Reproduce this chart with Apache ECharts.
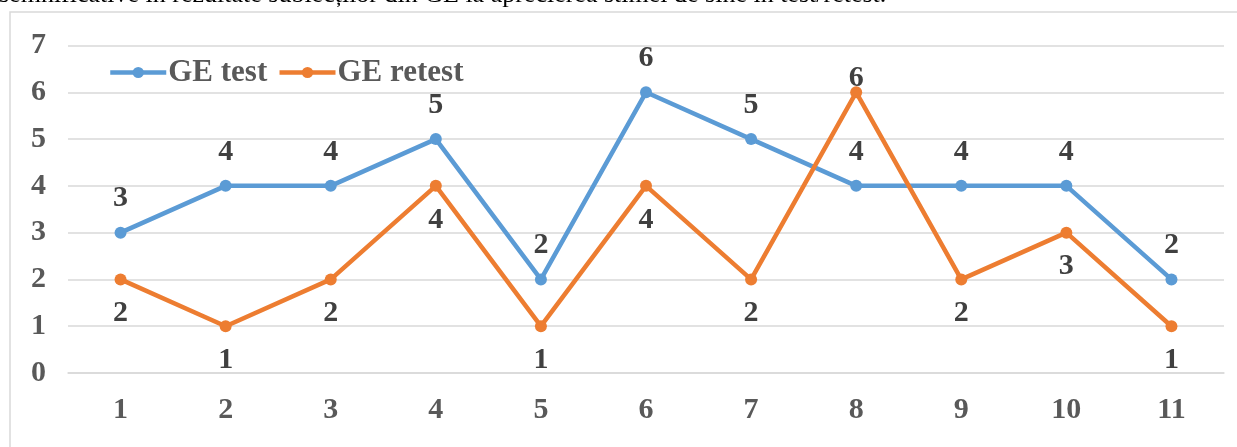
<!DOCTYPE html>
<html>
<head>
<meta charset="utf-8">
<script src="https://cdn.jsdelivr.net/npm/echarts@6/dist/echarts.min.js"></script>
<style>
html,body{margin:0;padding:0;background:#fff;}
#c{width:1237px;height:447px;}
</style>
</head>
<body>
<div id="c"></div>
<script>
var categories = ['1','2','3','4','5','6','7','8','9','10','11'];
var geTest = [3,4,4,5,2,6,5,4,4,4,2];
var geRetest = [2,1,2,4,1,4,2,6,2,3,1];
var seriesNames = ['GE test','GE retest'];
var yTicks = [0,1,2,3,4,5,6,7];
var captionText = 'semnificative în rezultate subiecților din GE la aprecierea stimei de sine în test/retest.';

var FONT = '"Liberation Serif", "Times New Roman", serif';
var chart = echarts.init(document.getElementById('c'));

var retestData = geRetest.map(function(v, i){
  var d = {value: v};
  if (i === 7) {
    d.label = {position: 'inside', offset: [0, -14]};
  }
  return d;
});

chart.setOption({
  animation: false,
  backgroundColor: '#fff',
  graphic: [
    {type: 'rect', shape: {x: 10, y: 12, width: 1260, height: 460}, style: {fill: 'none', stroke: '#d9d9d9', lineWidth: 1.5}, silent: true},
    {type: 'text', left: -1, top: -18, style: {text: captionText, font: '26px ' + FONT, fill: '#000'}}
  ],
  grid: {left: 68, right: 13, top: 45.5, bottom: 74, containLabel: false},
  legend: {
    left: 103, top: 52,
    itemWidth: 56, itemHeight: 14, itemGap: 10,
    lineStyle: {width: 4.5},
    textStyle: {fontFamily: FONT, fontWeight: 'bold', fontSize: 31, color: '#595959', padding: [0,0,0,-3]},
    data: seriesNames
  },
  xAxis: {
    type: 'category', data: categories, boundaryGap: true,
    axisLine: {show: true, lineStyle: {color: '#d9d9d9', width: 1.5}},
    axisTick: {show: false},
    axisLabel: {fontFamily: FONT, fontWeight: 'bold', fontSize: 30, color: '#595959', margin: 22}
  },
  yAxis: {
    type: 'value', min: yTicks[0], max: yTicks[yTicks.length-1], interval: 1,
    axisLine: {show: false}, axisTick: {show: false},
    splitLine: {lineStyle: {color: '#d9d9d9', width: 1.5}},
    axisLabel: {fontFamily: FONT, fontWeight: 'bold', fontSize: 30, color: '#595959', margin: 22}
  },
  series: [
    {
      name: seriesNames[0], type: 'line', data: geTest,
      symbol: 'circle', symbolSize: 12,
      lineStyle: {width: 4.5, color: '#5b9bd5'},
      itemStyle: {color: '#5b9bd5'},
      label: {show: true, position: 'top', distance: 13, fontFamily: FONT, fontWeight: 'bold', fontSize: 30, color: '#404040'}
    },
    {
      name: seriesNames[1], type: 'line', data: retestData,
      symbol: 'circle', symbolSize: 12,
      lineStyle: {width: 4.5, color: '#ed7d31'},
      itemStyle: {color: '#ed7d31'},
      label: {show: true, position: 'bottom', distance: 13, fontFamily: FONT, fontWeight: 'bold', fontSize: 30, color: '#404040'}
    }
  ]
});
</script>
</body>
</html>
